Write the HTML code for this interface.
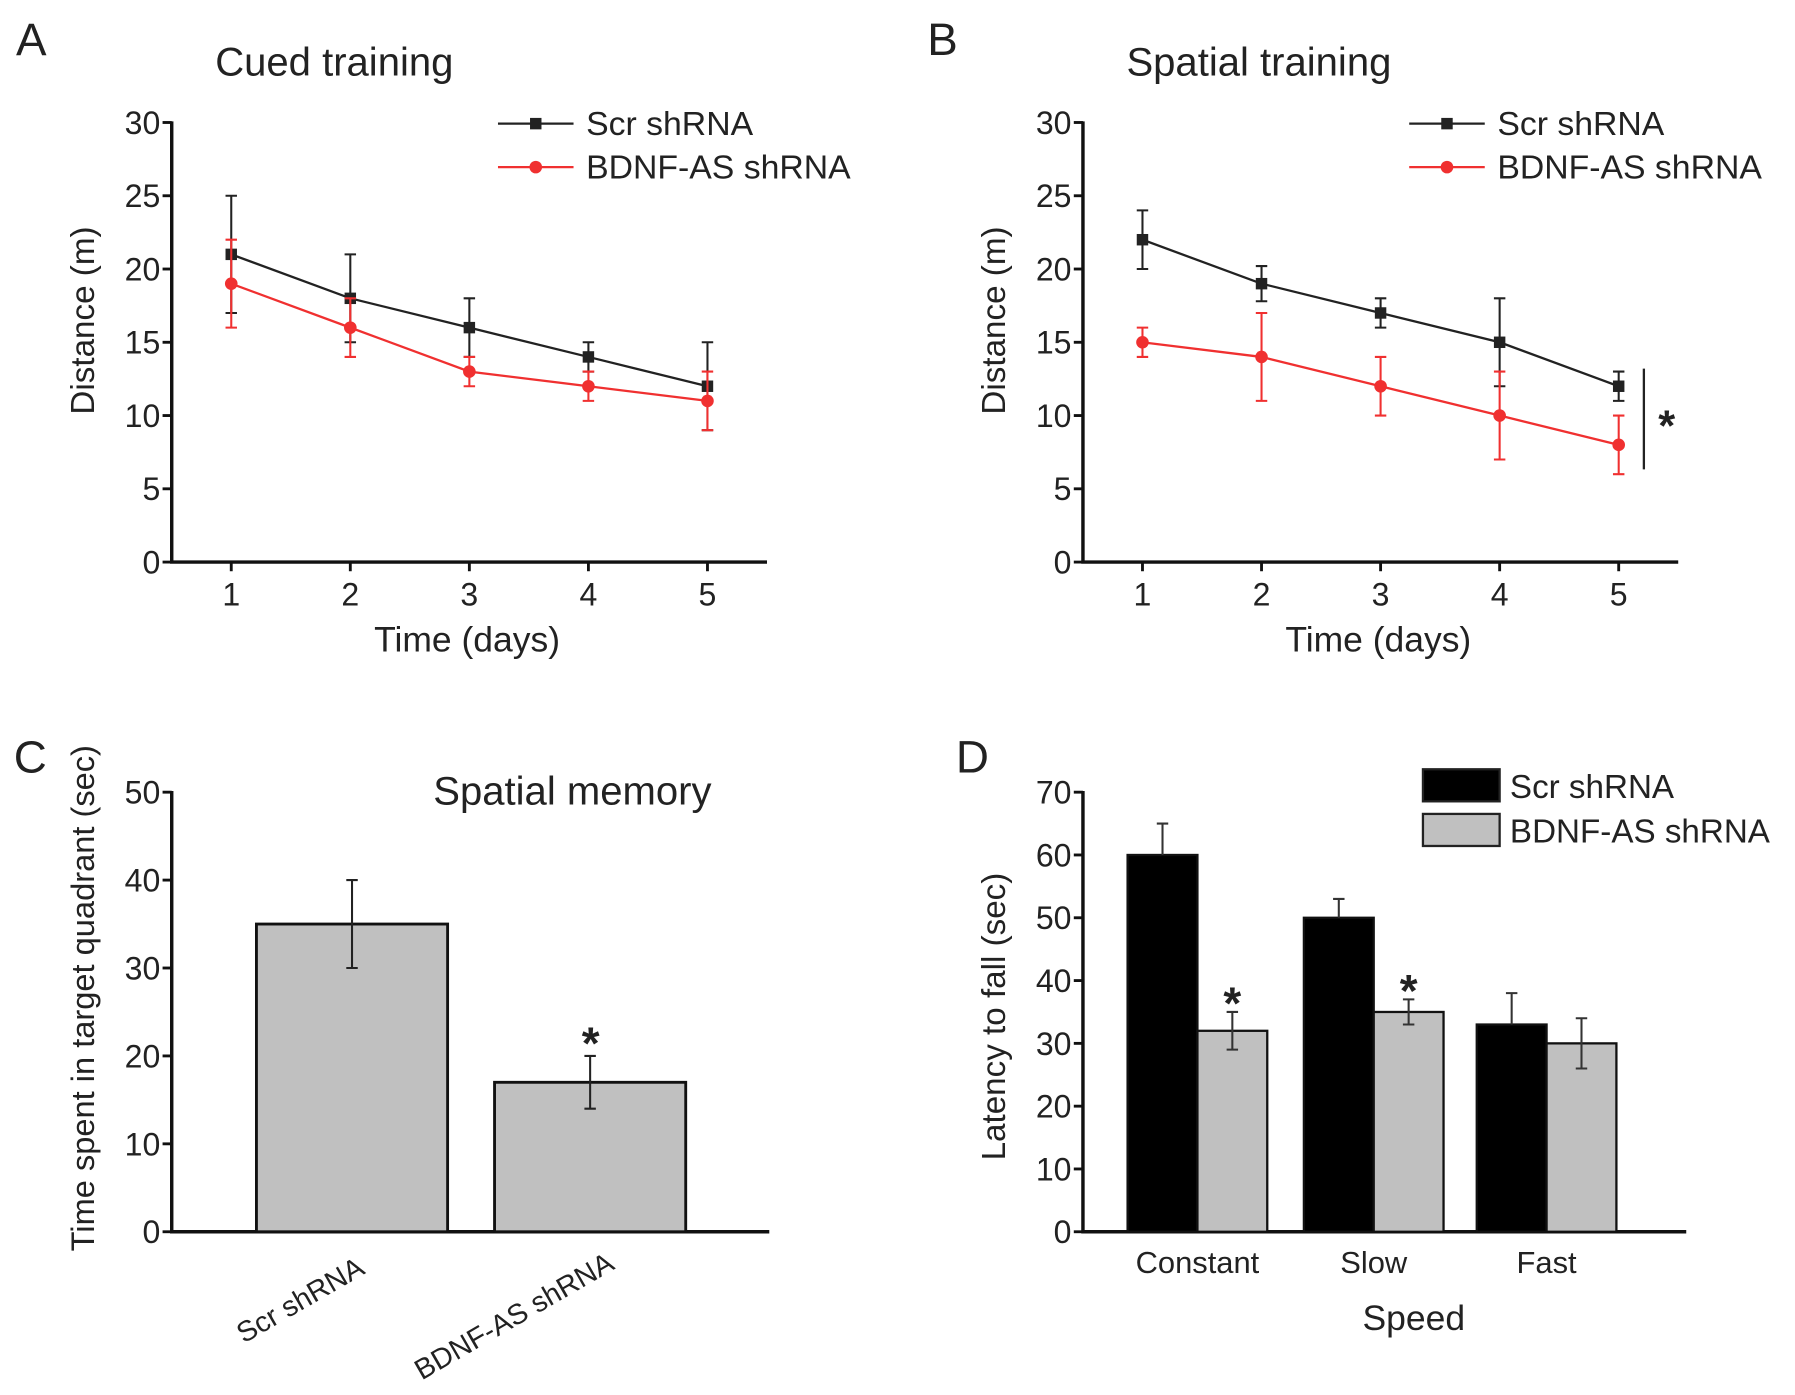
<!DOCTYPE html>
<html><head><meta charset="utf-8"><style>html,body{margin:0;padding:0;background:#fff}svg{display:block}text{font-family:"Liberation Sans",Arial,sans-serif;fill:#222}</style></head>
<body>
<svg id="fig" width="1795" height="1395" viewBox="0 0 1568 1218.6" xmlns="http://www.w3.org/2000/svg"></svg>
<script>
const days=[1,2,3,4,5];
const aScr=[21,18,16,14,12], aScrErr=[4,3,2,1,3];
const aBd=[19,16,13,12,11], aBdErr=[3,2,1,1,2];
const bScr=[22,19,17,15,12], bScrErr=[2,1.2,1,3,1];
const bBd=[15,14,12,10,8], bBdErr=[1,3,2,3,2];
const yTicksAB=[0,5,10,15,20,25,30];
const cCats=["Scr shRNA","BDNF-AS shRNA"], cVals=[35,17], cErr=[5,3];
const yTicksC=[0,10,20,30,40,50];
const dCats=["Constant","Slow","Fast"];
const dScr=[60,50,33], dScrErr=[5,3,5];
const dBd=[32,35,30], dBdErr=[3,2,4];
const yTicksD=[0,10,20,30,40,50,60,70];

const svg=document.getElementById('fig');
const NS='http://www.w3.org/2000/svg';
function el(tag,attrs,parent){const e=document.createElementNS(NS,tag);for(const k in attrs)e.setAttribute(k,attrs[k]);(parent||svg).appendChild(e);return e;}
function txt(s,attrs,parent){const t=el('text',attrs,parent);t.textContent=s;return t;}

function axes(g,x0,x1,y0,y1,ticks,ymax){
  const ys=v=>y0-(v/ymax)*(y0-y1);
  const ax=el('path',{d:`M${x0} ${y1-1}V${y0}H${x1}`,stroke:'#111','stroke-width':3,fill:'none'},g);
  
  ticks.forEach(v=>{
    el('line',{x1:x0-8,x2:x0,y1:ys(v),y2:ys(v),stroke:'#111','stroke-width':2.5},g);
    const t=txt(String(v),{x:x0-10,y:ys(v)+10,'font-size':28,'text-anchor':'end'},g);
    
  });
  return ys;
}
function linePanel(id,ox,title,scr,scrE,bd,bdE,letter,sig){
  const g=el('g',{});
  const x0=ox+150,x1=ox+670,y0=491,y1=107;
  const ys=axes(g,x0,x1,y0,y1,yTicksAB,30);
  const xs=d=>ox+202+(d-1)*104;
  days.forEach(d=>{el('line',{x1:xs(d),x2:xs(d),y1:y0,y2:y0+8,stroke:'#111','stroke-width':2.5},g);
    const t=txt(String(d),{x:xs(d),y:y0+38,'font-size':28,'text-anchor':'middle'},g);});
  const lt=txt(letter,{x:ox+14,y:48,'font-size':40},g);
  const tt=txt(title,{x:ox+188,y:66,'font-size':35},g);
  const xl=txt('Time (days)',{x:ox+408,y:569,'font-size':31,'text-anchor':'middle'},g);
  const yl=txt('Distance (m)',{x:0,y:0,'font-size':29,'text-anchor':'middle',transform:`translate(${ox+82},280) rotate(-90)`},g);
  [[scr,scrE,'#222','square','scr'],[bd,bdE,'#f03030','circle','bdnf']].forEach(([v,e,c,m,n])=>{
    const ln=el('polyline',{points:days.map((d,i)=>xs(d)+','+ys(v[i])).join(' '),fill:'none',stroke:c,'stroke-width':2},g);
    
    days.forEach((d,i)=>{const x=xs(d);
      const eb=el('path',{d:`M${x} ${ys(v[i]-e[i])}V${ys(v[i]+e[i])}M${x-5} ${ys(v[i]-e[i])}h10M${x-5} ${ys(v[i]+e[i])}h10`,stroke:c,'stroke-width':1.8,fill:'none'},g);
      
      const mk=m==='square'?el('rect',{x:x-5,y:ys(v[i])-5,width:10,height:10,fill:c},g):el('circle',{cx:x,cy:ys(v[i]),r:5.5,fill:c},g);
      });
  });
  const lx=ox+435;
  [['Scr shRNA','#222',108,'square'],['BDNF-AS shRNA','#f03030',146,'circle']].forEach(([s,c,y,m])=>{
    const lg=el('g',{},g);
    el('line',{x1:lx,x2:lx+66,y1:y,y2:y,stroke:c,'stroke-width':2},lg);
    if(m==='square')el('rect',{x:lx+28,y:y-5,width:10,height:10,fill:c},lg);else el('circle',{cx:lx+33,cy:y,r:5.5,fill:c},lg);
    txt(s,{x:lx+77,y:y+10,'font-size':29.5},lg);
  });
  if(sig){const s=el('line',{x1:1436,x2:1436,y1:322,y2:410,stroke:'#222','stroke-width':2},g);
    
    const st=txt('*',{x:1456,y:385,'font-size':38,'text-anchor':'middle','font-weight':'bold'},g);}
}
linePanel('a',0,'Cued training',aScr,aScrErr,aBd,aBdErr,'A',false);
linePanel('b',796,'Spatial training',bScr,bScrErr,bBd,bBdErr,'B',true);

// Panel C
(function(){
  const g=el('g',{});
  const x0=150,y0=1076,y1=692;
  const ys=axes(g,x0,672,y0,y1,yTicksC,50);
  const lt=txt('C',{x:12,y:675,'font-size':40},g);
  const tt=txt('Spatial memory',{x:500,y:703,'font-size':35,'text-anchor':'middle'},g);
  const yl=txt('Time spent in target quadrant (sec)',{x:0,y:0,'font-size':28.5,'text-anchor':'middle',transform:'translate(82,872) rotate(-90)'},g);
  const ends=[[320,1098],[538,1094]];
  cCats.forEach((c,i)=>{const bx=224+i*208,w=167,cx=bx+w/2;
    const b=el('rect',{x:bx,y:ys(cVals[i]),width:w,height:y0-ys(cVals[i]),fill:'#c0c0c0',stroke:'#111','stroke-width':2.5},g);
    
    const eb=el('path',{d:`M${cx} ${ys(cVals[i]-cErr[i])}V${ys(cVals[i]+cErr[i])}M${cx-5} ${ys(cVals[i]-cErr[i])}h10M${cx-5} ${ys(cVals[i]+cErr[i])}h10`,stroke:'#222','stroke-width':1.8,fill:'none'},g);
    
    const t=txt(c,{x:0,y:0,'font-size':25,'text-anchor':'end',transform:`translate(${ends[i][0]},${ends[i][1]+14}) rotate(-30)`},g);
  });
  const st=txt('*',{x:516,y:925,'font-size':40,'text-anchor':'middle','font-weight':'bold'},g);
})();

// Panel D
(function(){
  const g=el('g',{});
  const x0=946,y0=1076,y1=692;
  const ys=axes(g,x0,1473,y0,y1,yTicksD,70);
  const lt=txt('D',{x:835,y:675,'font-size':40},g);
  const yl=txt('Latency to fall (sec)',{x:0,y:0,'font-size':29,'text-anchor':'middle',transform:'translate(878,888) rotate(-90)'},g);
  const xl=txt('Speed',{x:1235,y:1162,'font-size':31,'text-anchor':'middle'},g);
  const gx=[985,1139,1290],w=61;
  dCats.forEach((c,i)=>{
    [[dScr,dScrErr,'#000',0,'scr'],[dBd,dBdErr,'#c0c0c0',1,'bdnf']].forEach(([v,e,f,k,n])=>{
      const bx=gx[i]+k*w,cx=bx+w/2;
      const b=el('rect',{x:bx,y:ys(v[i]),width:w,height:y0-ys(v[i]),fill:f,stroke:'#111','stroke-width':2},g);
      
      const lo=k?ys(v[i]-e[i]):ys(v[i]);
      const eb=el('path',{d:`M${cx} ${lo}V${ys(v[i]+e[i])}M${cx-5} ${ys(v[i]+e[i])}h10`+(k?`M${cx-5} ${lo}h10`:''),stroke:'#333','stroke-width':1.8,fill:'none'},g);
      
    });
    const t=txt(c,{x:gx[i]+w,y:1112,'font-size':27,'text-anchor':'middle'},g);
  });
  [0,1].forEach(i=>{const cx=gx[i]+w*1.5;const st=txt('*',{x:cx,y:ys(dBd[i]+dBdErr[i])+6,'font-size':40,'text-anchor':'middle','font-weight':'bold'},g);
    });
  [['Scr shRNA','#000',672],['BDNF-AS shRNA','#c0c0c0',711]].forEach(([s,f,y])=>{
    const lg=el('g',{},g);
    el('rect',{x:1243,y:y,width:67,height:28,fill:f,stroke:'#222','stroke-width':2},lg);
    txt(s,{x:1319,y:y+25,'font-size':29},lg);
  });
})();
</script>
</body></html>
